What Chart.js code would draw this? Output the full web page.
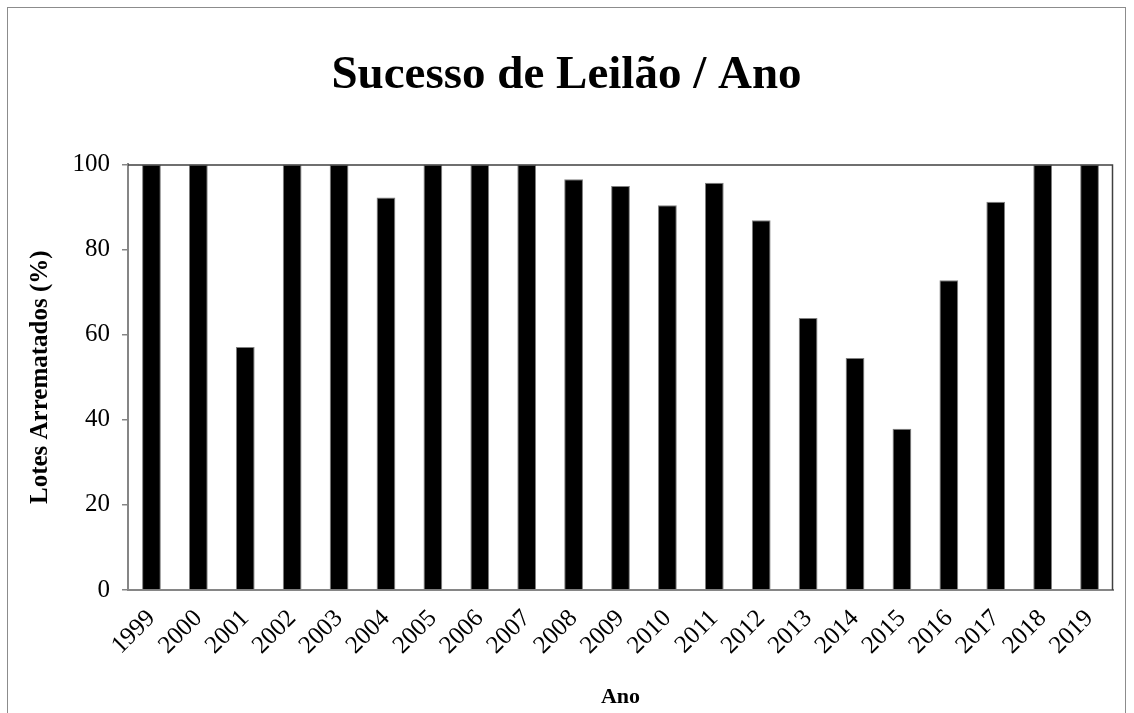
<!DOCTYPE html>
<html>
<head>
<meta charset="utf-8">
<script src="https://cdn.jsdelivr.net/npm/chart.js@4"></script>
<style>
  html, body { margin: 0; padding: 0; background: #fff; }
  #wrap { position: relative; width: 1134px; height: 713px; }
</style>
</head>
<body>
<div id="wrap"><canvas id="leilaoChart" width="1134" height="713"></canvas></div>
<script>
// dados
const anos = ['1999', '2000', '2001', '2002', '2003', '2004', '2005', '2006', '2007', '2008', '2009',
              '2010', '2011', '2012', '2013', '2014', '2015', '2016', '2017', '2018', '2019'];
const lotesArrematados = [100, 100, 57.1, 100, 100, 92.2, 100, 100, 100, 96.5, 94.9,
                          90.4, 95.7, 86.9, 63.9, 54.5, 37.9, 72.8, 91.2, 100, 100];
const yTicks = [0, 20, 40, 60, 80, 100];

const serif = "'Liberation Serif', 'DejaVu Serif', serif";

// moldura externa + borda da área do gráfico
const moldura = {
    id: 'moldura',
    beforeDraw(chart) {
        const ctx = chart.ctx;
        ctx.save();
        ctx.fillStyle = '#fff';
        ctx.fillRect(0, 0, chart.width, chart.height);
        ctx.strokeStyle = '#8c8c8c';
        ctx.lineWidth = 1;
        ctx.strokeRect(7.5, 7.5, 1118, 740);
        ctx.restore();
    },
    afterDatasetsDraw(chart) {
        const a = chart.chartArea;
        const ctx = chart.ctx;
        ctx.save();
        ctx.strokeStyle = '#404040';
        ctx.lineWidth = 1.5;
        ctx.beginPath();
        ctx.moveTo(a.left, a.top + 0.5);
        ctx.lineTo(a.right - 0.5, a.top + 0.5);
        ctx.lineTo(a.right - 0.5, a.bottom);
        ctx.stroke();
        ctx.restore();
    }
};

const ctx = document.getElementById('leilaoChart').getContext('2d');
new Chart(ctx, {
    type: 'bar',
    data: {
        labels: anos,
        datasets: [{
            data: lotesArrematados,
            backgroundColor: '#000',
            borderColor: '#808080',
            borderWidth: 1,
            barPercentage: 0.4,
            categoryPercentage: 1.0
        }]
    },
    options: {
        responsive: false,
        animation: false,
        layout: { padding: { left: 20, right: 21, top: 0, bottom: 2 } },
        plugins: {
            legend: { display: false },
            tooltip: { enabled: false },
            title: {
                display: true,
                text: 'Sucesso de Leilão / Ano',
                color: '#000',
                font: { family: serif, size: 47, weight: 'bold' },
                padding: { top: 48, bottom: 60 }
            }
        },
        scales: {
            x: {
                afterFit(s) { s.height = 121; },
                grid: { display: false, drawTicks: false },
                border: { color: '#868686', width: 2 },
                ticks: {
                    color: '#000',
                    font: { family: serif, size: 25 },
                    minRotation: 45,
                    maxRotation: 45,
                    padding: 14,
                    autoSkip: false
                },
                title: {
                    display: true,
                    text: 'Ano',
                    color: '#000',
                    font: { family: serif, size: 22, weight: 'bold' },
                    padding: { top: 0, bottom: 0 }
                }
            },
            y: {
                min: 0,
                max: 100,
                afterFit(s) { s.width = 108; },
                afterBuildTicks(s) { s.ticks = yTicks.map(v => ({ value: v })); },
                grid: { drawOnChartArea: false, color: '#868686', tickLength: 6, lineWidth: 1.5 },
                border: { color: '#868686', width: 2 },
                ticks: {
                    color: '#000',
                    font: { family: serif, size: 25 },
                    padding: 12
                },
                title: {
                    display: true,
                    text: 'Lotes Arrematados (%)',
                    color: '#000',
                    font: { family: serif, size: 25, weight: 'bold' },
                    padding: { top: 6, bottom: 0 }
                }
            }
        }
    },
    plugins: [moldura]
});
</script>
</body>
</html>
